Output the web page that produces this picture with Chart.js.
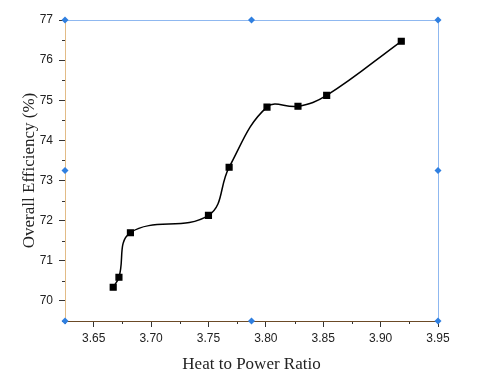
<!DOCTYPE html>
<html>
<head>
<meta charset="utf-8">
<script src="https://cdn.jsdelivr.net/npm/chart.js@4"></script>
<style>
  html, body { margin: 0; padding: 0; background: #fff; }
  #wrap { width: 480px; height: 379px; }
</style>
</head>
<body>
<div id="wrap"><canvas id="c" width="480" height="379"></canvas></div>
<script>
// data
const heatToPower = [3.667, 3.672, 3.682, 3.750, 3.768, 3.801, 3.828, 3.853, 3.918];
const efficiency = [70.34, 70.59, 71.70, 72.13, 73.33, 74.83, 74.85, 75.12, 76.47];
const xTicks = [3.65, 3.70, 3.75, 3.80, 3.85, 3.90, 3.95];
const yTicks = [70, 71, 72, 73, 74, 75, 76, 77];

const minorTicks = {
  id: 'minorTicks',
  afterDraw(chart) {
    const { ctx, chartArea: a, scales: { x, y } } = chart;
    ctx.save();
    ctx.strokeStyle = '#333';
    ctx.lineWidth = 1;
    ctx.beginPath();
    for (let v = 3.625; v <= 3.95 + 1e-9; v += 0.05) {
      const px = Math.round(x.getPixelForValue(v)) + 0.5;
      ctx.moveTo(px, a.bottom);
      ctx.lineTo(px, a.bottom + 3);
    }
    for (let v = 69.5; v <= 77; v += 1) {
      const py = Math.round(y.getPixelForValue(v)) + 0.5;
      ctx.moveTo(a.left, py);
      ctx.lineTo(a.left - 3, py);
    }
    ctx.stroke();

    // selection frame
    ctx.strokeStyle = '#8fb8f0';
    ctx.beginPath();
    ctx.moveTo(a.left, a.top + 0.5);
    ctx.lineTo(a.right + 0.5, a.top + 0.5);
    ctx.lineTo(a.right + 0.5, a.bottom);
    ctx.stroke();
    ctx.strokeStyle = '#e2bb86';
    ctx.beginPath();
    ctx.moveTo(a.left + 0.5, a.top);
    ctx.lineTo(a.left + 0.5, a.bottom);
    ctx.stroke();
    ctx.strokeStyle = '#6b4a26';
    ctx.beginPath();
    ctx.moveTo(a.left, a.bottom + 0.5);
    ctx.lineTo(a.right, a.bottom + 0.5);
    ctx.stroke();

    const mx = (a.left + a.right) / 2, my = (a.top + a.bottom) / 2;
    const handles = [
      [a.left, a.top], [mx, a.top], [a.right, a.top],
      [a.left, my], [a.right, my],
      [a.left, a.bottom], [mx, a.bottom], [a.right, a.bottom]
    ];
    ctx.fillStyle = '#2f7fe0';
    handles.forEach(([hx, hy]) => {
      ctx.beginPath();
      ctx.moveTo(hx, hy - 3.5);
      ctx.lineTo(hx + 3.5, hy);
      ctx.lineTo(hx, hy + 3.5);
      ctx.lineTo(hx - 3.5, hy);
      ctx.closePath();
      ctx.fill();
    });
    ctx.restore();
  }
};

new Chart(document.getElementById('c'), {
  type: 'scatter',
  data: {
    datasets: [{
      data: heatToPower.map((v, i) => ({ x: v, y: efficiency[i] })),
      showLine: true,
      borderColor: '#000',
      borderWidth: 1.5,
      tension: 0.4,
      pointStyle: 'rect',
      pointRadius: 4,
      pointBackgroundColor: '#000',
      pointBorderColor: '#000'
    }]
  },
  options: {
    responsive: false,
    animation: false,
    layout: { padding: { top: 20, right: 42, left: 15 } },
    plugins: { legend: { display: false }, tooltip: { enabled: false } },
    scales: {
      x: {
        type: 'linear',
        min: 3.625,
        max: 3.95,
        afterBuildTicks: s => { s.ticks = xTicks.map(v => ({ value: v })); },
        afterFit: s => { s.height = 58; },
        border: { display: false },
        grid: { drawOnChartArea: false, tickLength: 6, tickColor: '#333' },
        ticks: {
          padding: 4,
          color: '#222',
          font: { family: 'Liberation Sans, Arial', size: 12 },
          callback: v => v.toFixed(2)
        },
        title: {
          display: true,
          text: 'Heat to Power Ratio',
          color: '#222',
          font: { family: 'Liberation Serif, Times New Roman', size: 17 },
          padding: { top: 1 }
        }
      },
      y: {
        min: 69.5,
        max: 77,
        afterBuildTicks: s => { s.ticks = yTicks.map(v => ({ value: v })); },
        afterFit: s => { s.width = 50; },
        border: { display: false },
        grid: { drawOnChartArea: false, tickLength: 6, tickColor: '#333' },
        ticks: {
          padding: 6,
          color: '#222',
          font: { family: 'Liberation Sans, Arial', size: 12 }
        },
        title: {
          display: true,
          text: 'Overall Efficiency (%)',
          color: '#222',
          font: { family: 'Liberation Serif, Times New Roman', size: 17 },
          padding: { top: 4, bottom: 2 }
        }
      }
    }
  },
  plugins: [minorTicks]
});
</script>
</body>
</html>
